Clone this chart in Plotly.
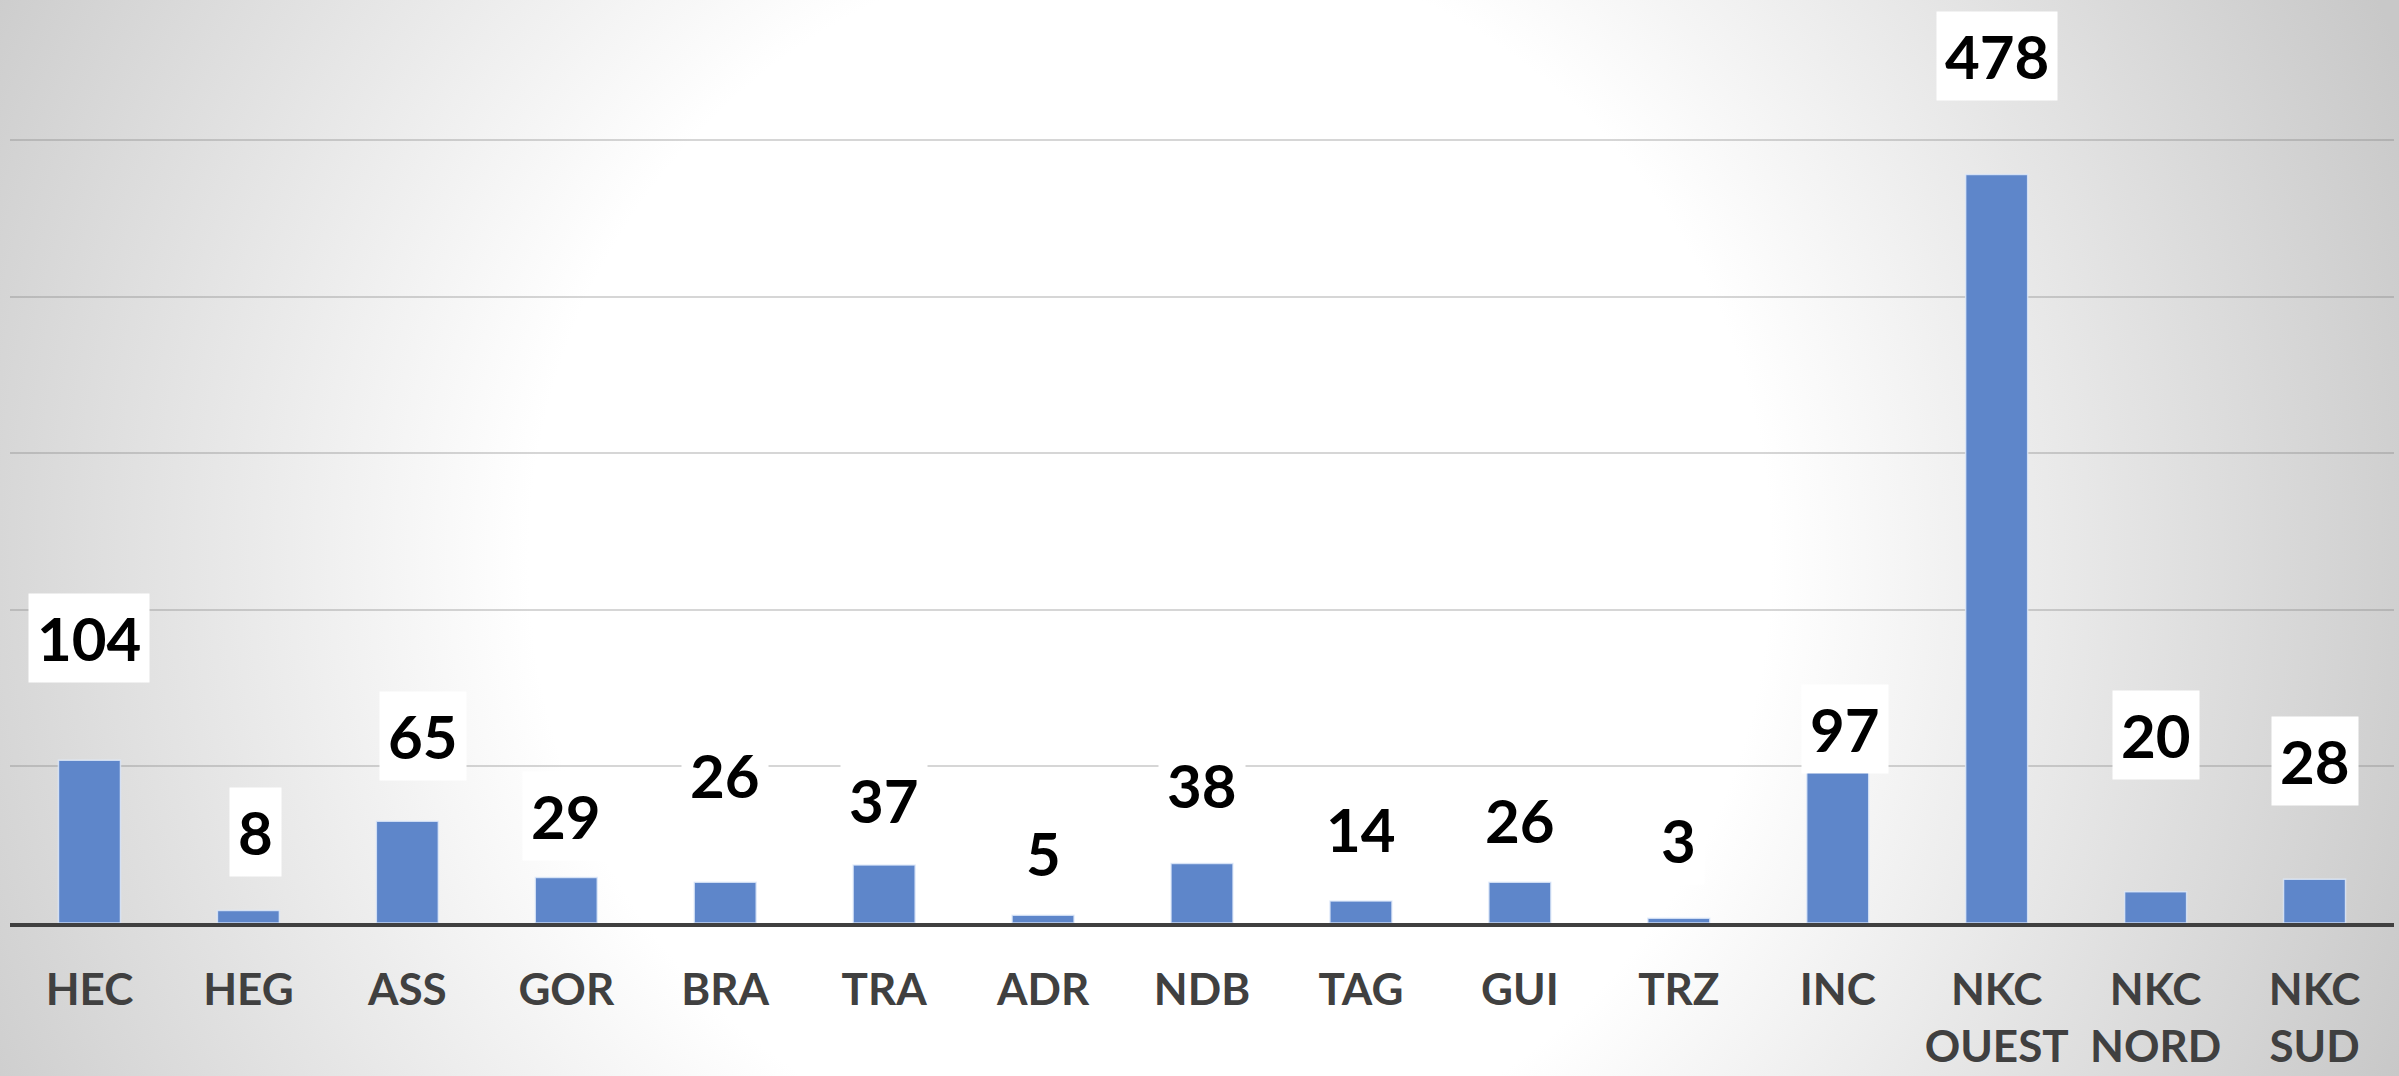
import base64
import plotly.graph_objects as go

# ---- data ----
categories = ["HEC", "HEG", "ASS", "GOR", "BRA", "TRA", "ADR", "NDB", "TAG", "GUI",
              "TRZ", "INC", "NKC<br>OUEST", "NKC<br>NORD", "NKC<br>SUD"]
values = [104, 8, 65, 29, 26, 37, 5, 38, 14, 26, 3, 97, 478, 20, 28]
gridline_values = [100, 200, 300, 400, 500]

# ---- label placement (pixel offsets of the value boxes relative to bar tops) ----
label_yshift = [122, 78, 85, 62, 107, 65, 62, 78, 72, 62, 78, 42, 118, 157, 118]
label_xshift = [0, 7, 16, 0, 0, 0, 0, 0, 0, 0, 0, 7, 0, 0, 0]

W, H = 2399, 1076
M_L, M_R, M_T, M_B = 10, 5, 0, 153
PW, PH = W - M_L - M_R, H - M_T - M_B

# radial background gradient (white centre, grey edges)
svg = f'''<svg xmlns="http://www.w3.org/2000/svg" width="{W}" height="{H}" viewBox="0 0 {W} {H}">
<defs><radialGradient id="g" gradientUnits="userSpaceOnUse" cx="1150" cy="560" r="1350">
<stop offset="0" stop-color="#ffffff"/><stop offset="0.46" stop-color="#ffffff"/>
<stop offset="1" stop-color="#c8c8c8"/></radialGradient></defs>
<rect x="0" y="0" width="{W}" height="{H}" fill="url(#g)"/></svg>'''
bg_src = "data:image/svg+xml;base64," + base64.b64encode(svg.encode()).decode()

fig = go.Figure()
fig.add_trace(go.Bar(
    x=categories, y=values,
    marker=dict(color="#5E86CA", line=dict(color="rgba(225,235,250,0.8)", width=1.5)),
    hoverinfo="x+y",
))

for cat, v, dy, dx in zip(categories, values, label_yshift, label_xshift):
    fig.add_annotation(
        x=cat, y=v, xref="x", yref="y",
        text=str(v), showarrow=False,
        xanchor="center", yanchor="middle",
        yshift=dy, xshift=dx,
        font=dict(family="Lato", size=60, color="#000000", weight="bold"),
        bgcolor="#ffffff", borderpad=8,
    )

fig.update_layout(
    width=W, height=H,
    margin=dict(l=M_L, r=M_R, t=M_T, b=M_B, autoexpand=False),
    paper_bgcolor="#d0d0d0",
    plot_bgcolor="rgba(0,0,0,0)",
    showlegend=False,
    bargap=0.61,
    images=[dict(
        source=bg_src, xref="paper", yref="paper",
        x=-M_L / PW, y=1 + M_T / PH, sizex=W / PW, sizey=H / PH,
        xanchor="left", yanchor="top", sizing="stretch", layer="below",
    )],
    xaxis=dict(
        automargin=False,
        showline=True, linecolor="#404040", linewidth=4,
        showgrid=False, ticks="",
        tickfont=dict(family="Lato", size=44, color="#404040", weight="bold"),
        ticklabelstandoff=25,
    ),
    yaxis=dict(
        automargin=False,
        range=[0, 589.4], showline=False, zeroline=False,
        showticklabels=False, ticks="",
        tickvals=gridline_values, showgrid=True,
        gridcolor="rgba(120,120,120,0.3)", gridwidth=2,
    ),
)

fig.write_html("out.html", config={"displayModeBar": False},
               post_script="document.body.style.margin='0';")
